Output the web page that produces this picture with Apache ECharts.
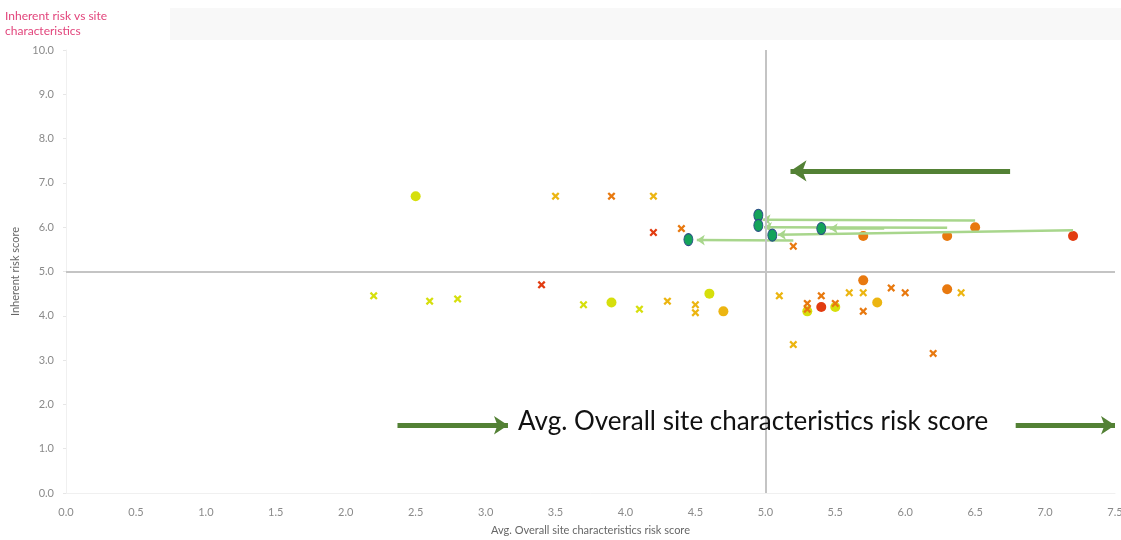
<!DOCTYPE html>
<html>
<head>
<meta charset="utf-8">
<script src="https://cdn.jsdelivr.net/npm/echarts@6/dist/echarts.min.js"></script>
<style>
  html, body { margin: 0; padding: 0; background: #fff; }
  #chart { width: 1121px; height: 540px; }
</style>
</head>
<body>
<div id="chart"></div>
<script>
// site points (x = avg site characteristics score, y = inherent risk score)
const circleLime = [[2.5, 6.7], [3.9, 4.3], [4.6, 4.5], [5.3, 4.1], [5.5, 4.2]]
const circleGold = [[4.7, 4.1], [5.8, 4.3]]
const circleOrange = [[5.7, 4.8], [6.3, 4.6], [5.7, 5.8], [6.3, 5.8], [6.5, 6.0]]
const circleRed = [[5.4, 4.2], [7.2, 5.8]]
const circleMoved = [[4.95, 6.27], [4.95, 6.04], [5.4, 5.97], [5.05, 5.82], [4.45, 5.72]]

const crossLime = [[2.2, 4.45], [2.6, 4.33], [2.8, 4.38], [3.7, 4.25], [4.1, 4.15]]
const crossGold = [[3.5, 6.7], [4.2, 6.7], [4.3, 4.33], [4.5, 4.25], [4.5, 4.07], [5.1, 4.45],
  [5.2, 3.35], [5.6, 4.52], [5.7, 4.52], [6.4, 4.52]]
const crossOrange = [[3.9, 6.7], [4.4, 5.97], [5.2, 5.57], [5.3, 4.28], [5.3, 4.15], [5.4, 4.45],
  [5.5, 4.28], [5.7, 4.1], [5.9, 4.63], [6.0, 4.52], [6.2, 3.15]]
const crossRed = [[4.2, 5.88], [3.4, 4.7]]

// movement arrows [from, to]
const moveArrows = [
  [[6.5, 6.15], [4.98, 6.17]],
  [[6.3, 5.99], [4.99, 6.0]],
  [[5.85, 5.97], [5.46, 5.97]],
  [[7.2, 5.93], [5.09, 5.83]],
  [[5.2, 5.7], [4.51, 5.71]]
]
const bigArrows = [
  [[6.75, 7.27], [5.18, 7.27]],
  [[2.37, 1.53], [3.16, 1.53]],
  [[6.79, 1.53], [7.5, 1.53]]
]

const xTicks = { min: 0, max: 7.5, interval: 0.5 }
const yTicks = { min: 0, max: 10, interval: 1 }

const crossPath = 'path://M2,0 L5,3 L8,0 L10,2 L7,5 L10,8 L8,10 L5,7 L2,10 L0,8 L3,5 L0,2 Z'
const colors = { lime: '#d6df0c', gold: '#ecb511', orange: '#e8790f', red: '#e23c10' }

function pts(data, color, symbol, size) {
  return {
    type: 'scatter', data: data, symbol: symbol, symbolSize: size,
    itemStyle: { color: color, opacity: 1 }, z: 3
  }
}

let chart = echarts.init(document.getElementById('chart'))
chart.setOption({
  animation: false,
  textStyle: { fontFamily: 'Lato' },
  graphic: [
    { type: 'rect', shape: { x: 170, y: 8, width: 951, height: 32 }, style: { fill: '#f8f8f8' } },
    {
      type: 'text', left: 5, top: 9,
      style: { text: 'Inherent risk vs site\ncharacteristics', fill: '#e2457c', font: '12px Lato', lineHeight: 15 }
    },
    {
      type: 'text', left: 518, top: 409, z: 10,
      style: { text: 'Avg. Overall site characteristics risk score', fill: '#111', font: '26px Lato' }
    }
  ],
  grid: { left: 66, right: 6, top: 50, bottom: 47, outerBoundsMode: 'none', containLabel: false },
  xAxis: {
    type: 'value', min: xTicks.min, max: xTicks.max, interval: xTicks.interval,
    name: 'Avg. Overall site characteristics risk score', nameLocation: 'middle', nameGap: 32,
    nameTextStyle: { color: '#666', fontSize: 11 },
    axisLine: { lineStyle: { color: '#f0f0f0' } },
    axisTick: { show: false },
    splitLine: { show: false },
    axisLabel: { color: '#8a8a8a', fontSize: 11, margin: 14, formatter: v => v.toFixed(1) }
  },
  yAxis: {
    type: 'value', min: yTicks.min, max: yTicks.max, interval: yTicks.interval,
    name: 'Inherent risk score', nameLocation: 'middle', nameGap: 44,
    nameTextStyle: { color: '#666', fontSize: 11 },
    axisLine: { show: true, lineStyle: { color: '#f0f0f0' } },
    axisTick: { show: true, length: 3, lineStyle: { color: '#e6e6e6' } },
    splitLine: { show: false },
    axisLabel: { color: '#8a8a8a', fontSize: 11, margin: 12, formatter: v => v.toFixed(1) }
  },
  series: [
    {
      type: 'scatter', data: [], silent: true,
      markLine: {
        silent: true, symbol: 'none', label: { show: false },
        lineStyle: { color: '#c4c4c4', width: 2, type: 'solid' },
        data: [{ xAxis: 5 }, { yAxis: 5 }]
      }
    },
    pts(circleLime, colors.lime, 'circle', 10),
    pts(circleGold, colors.gold, 'circle', 10),
    pts(circleOrange, colors.orange, 'circle', 10),
    pts(circleRed, colors.red, 'circle', 10),
    pts(crossLime, colors.lime, crossPath, 8),
    pts(crossGold, colors.gold, crossPath, 8),
    pts(crossOrange, colors.orange, crossPath, 8),
    pts(crossRed, colors.red, crossPath, 8),
    {
      type: 'lines', coordinateSystem: 'cartesian2d', z: 4,
      symbol: ['none', 'arrow'], symbolSize: 8,
      lineStyle: { color: '#a8d68c', width: 2.5, opacity: 1, curveness: 0 },
      data: moveArrows.map(a => ({ coords: a }))
    },
    {
      type: 'scatter', data: circleMoved, symbol: 'circle', symbolSize: [9, 12], z: 5,
      itemStyle: { color: '#14a35a', borderColor: '#2b4f86', borderWidth: 1, opacity: 1 }
    },
    {
      type: 'lines', coordinateSystem: 'cartesian2d', z: 6,
      symbol: ['none', 'arrow'], symbolSize: [13, 14],
      lineStyle: { color: '#538135', width: 5, opacity: 1, curveness: 0 },
      data: bigArrows.slice(1).map(a => ({ coords: a }))
    },
    {
      type: 'lines', coordinateSystem: 'cartesian2d', z: 6,
      symbol: ['none', 'arrow'], symbolSize: [16, 16],
      lineStyle: { color: '#538135', width: 5, opacity: 1, curveness: 0 },
      data: bigArrows.slice(0, 1).map(a => ({ coords: a }))
    }
  ]
})
</script>
</body>
</html>
